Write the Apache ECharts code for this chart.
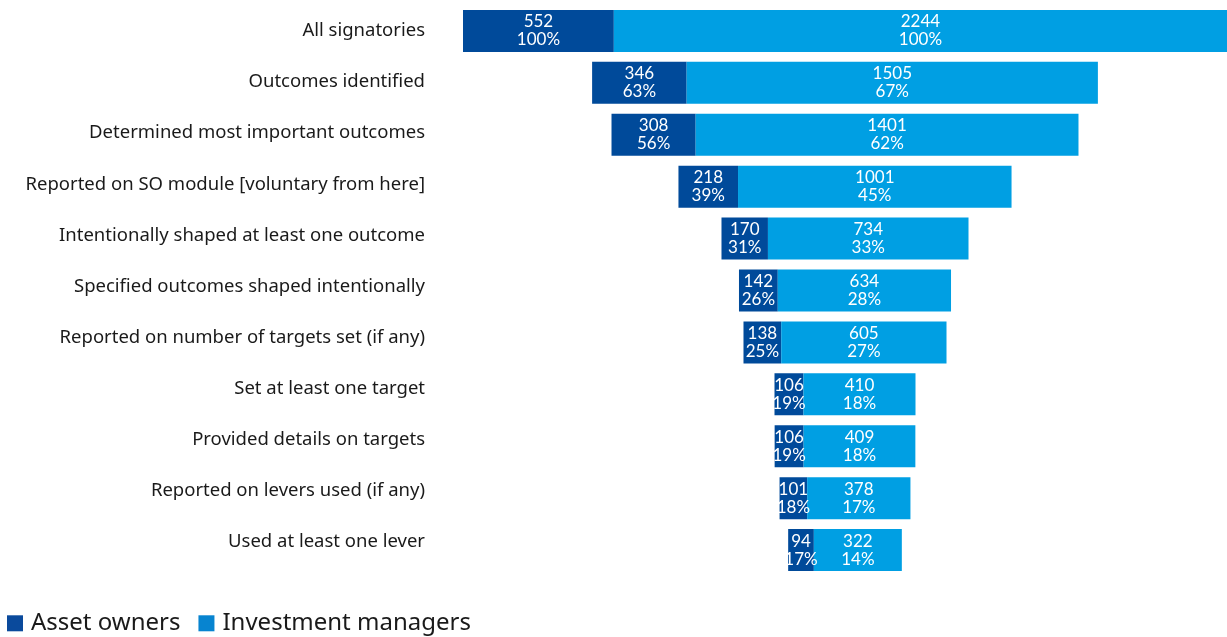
<style>
  body { margin: 0; }
</style>
<script src="https://cdn.jsdelivr.net/npm/echarts@6.0.0/dist/echarts.min.js"></script>

<div id="chart" style="width: 1227px; height: 637px;"></div>

<script>
  const categories = [
    'All signatories',
    'Outcomes identified',
    'Determined most important outcomes',
    'Reported on SO module [voluntary from here]',
    'Intentionally shaped at least one outcome',
    'Specified outcomes shaped intentionally',
    'Reported on number of targets set (if any)',
    'Set at least one target',
    'Provided details on targets',
    'Reported on levers used (if any)',
    'Used at least one lever'
  ];
  const assetOwners = [552, 346, 308, 218, 170, 142, 138, 106, 106, 101, 94];
  const assetOwnersPct = [100, 63, 56, 39, 31, 26, 25, 19, 19, 18, 17];
  const investmentManagers = [2244, 1505, 1401, 1001, 734, 634, 605, 410, 409, 378, 322];
  const investmentManagersPct = [100, 67, 62, 45, 33, 28, 27, 18, 18, 17, 14];

  const ready = (fn) => {
    if (document.readyState !== "loading") {
      fn();
    } else {
      document.addEventListener("DOMContentLoaded", fn);
    }
  };

  ready(() => {
    const chartDom = document.getElementById("chart");
    const myChart = echarts.init(chartDom, null, { renderer: "canvas" });

    const fullWidth = assetOwners[0] + investmentManagers[0];
    // invisible spacer so each row is centred like a funnel
    const spacer = assetOwners.map((v, i) => (fullWidth - v - investmentManagers[i]) / 2);

    const labelStyle = {
      show: true,
      position: 'inside',
      color: '#fff',
      fontFamily: 'Lato',
      fontSize: 17,
      lineHeight: 18
    };

    const option = {
      animation: false,
      // grid 0 holds the bars, grid 1 only carries the row labels (slightly tighter spacing)
      grid: [
        { left: 463, right: 0, top: 5, bottom: 61 },
        { left: 463, right: 0, top: 5.5, height: 562 }
      ],
      legend: {
        left: 2,
        bottom: -11,
        itemWidth: 16,
        itemHeight: 16,
        itemGap: 18,
        icon: 'rect',
        textStyle: { fontFamily: 'Noto Sans', fontSize: 24, color: '#1a1a1a', padding: [0, 0, 0, 3] },
        data: [
          { name: 'Asset owners', itemStyle: { color: '#0a4a9c' } },
          { name: 'Investment managers', itemStyle: { color: '#0784d0' } }
        ]
      },
      xAxis: [
        { type: 'value', min: 0, max: fullWidth, show: false, gridIndex: 0 },
        { type: 'value', min: 0, max: fullWidth, show: false, gridIndex: 1 }
      ],
      yAxis: [
        {
          type: 'category',
          gridIndex: 0,
          inverse: true,
          data: categories,
          axisLine: { show: false },
          axisTick: { show: false },
          axisLabel: { show: false }
        },
        {
          type: 'category',
          gridIndex: 1,
          inverse: true,
          data: categories,
          axisLine: { show: false },
          axisTick: { show: false },
          axisLabel: {
            margin: 38,
            fontFamily: 'Noto Sans',
            fontSize: 18.5,
            color: '#1a1a1a'
          }
        }
      ],
      series: [
        {
          name: 'spacer',
          type: 'bar',
          stack: 'x',
          data: spacer,
          itemStyle: { color: 'transparent' },
          silent: true,
          barWidth: 42
        },
        {
          name: 'Asset owners',
          type: 'bar',
          stack: 'x',
          data: assetOwners,
          itemStyle: { color: '#004a9a' },
          label: {
            ...labelStyle,
            formatter: (p) => `${p.value}\n${assetOwnersPct[p.dataIndex]}%`
          }
        },
        {
          name: 'Investment managers',
          type: 'bar',
          stack: 'x',
          data: investmentManagers,
          itemStyle: { color: '#009fe3' },
          label: {
            ...labelStyle,
            formatter: (p) => `${p.value}\n${investmentManagersPct[p.dataIndex]}%`
          }
        }
      ]
    };
    myChart.setOption(option);
  });
</script>
